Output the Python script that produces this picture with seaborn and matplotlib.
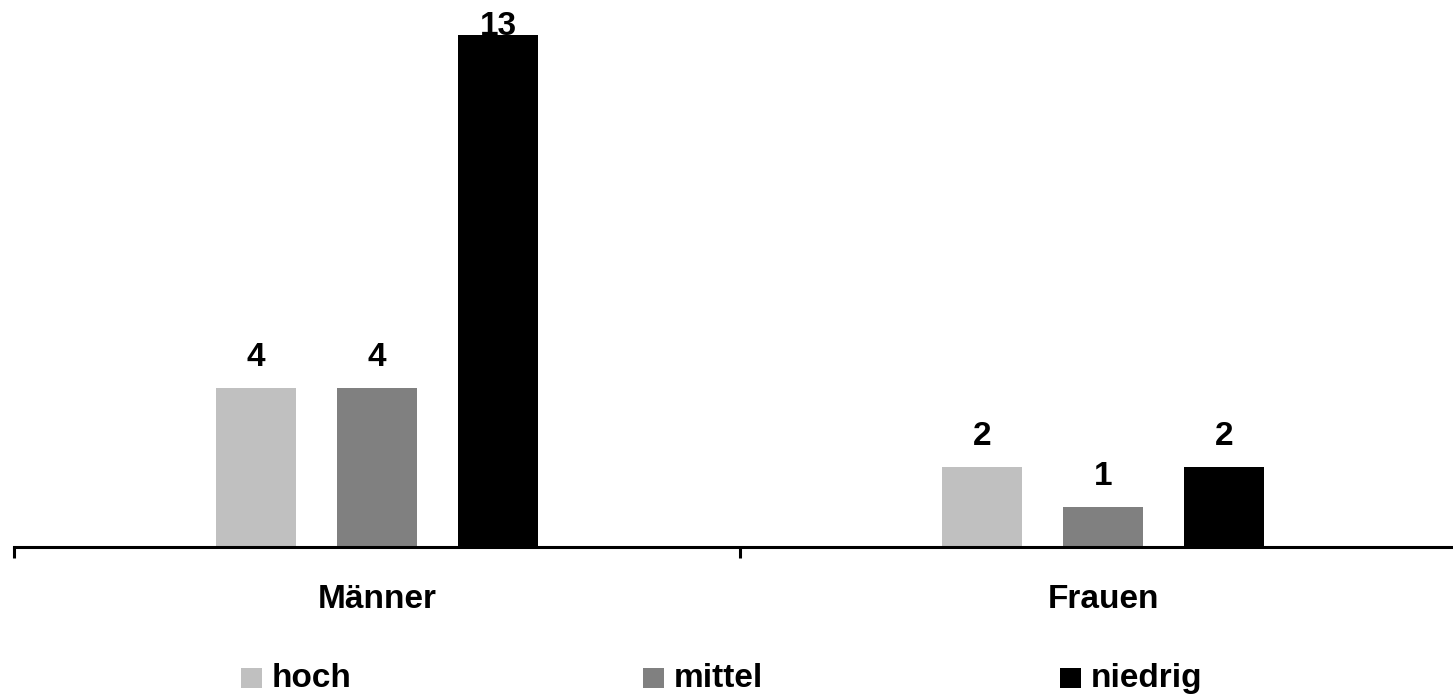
import matplotlib
matplotlib.use("Agg")
import matplotlib.pyplot as plt
import seaborn as sns
import pandas as pd
from matplotlib.patches import Rectangle

# Data
categories = ["Männer", "Frauen"]
levels = ["hoch", "mittel", "niedrig"]
hoch = [4, 2]
mittel = [4, 1]
niedrig = [13, 2]
colors = ["#C0C0C0", "#808080", "#000000"]

rows = []
for lvl, vals in zip(levels, [hoch, mittel, niedrig]):
    for cat, v in zip(categories, vals):
        rows.append({"Geschlecht": cat, "Niveau": lvl, "Anzahl": v})
df = pd.DataFrame(rows)

sns.set_theme(style="white")
plt.rcParams["font.family"] = ["Liberation Sans", "DejaVu Sans"]
plt.rcParams["font.weight"] = "bold"
plt.rcParams["text.color"] = "black"
plt.rcParams["xtick.color"] = "black"
plt.rcParams["xtick.labelcolor"] = "black"

W, H = 1453, 694
fig = plt.figure(figsize=(W / 100, H / 100), dpi=100)
ax_left, ax_bottom, ax_top = 14, 147.5, 35
ax = fig.add_axes([ax_left / W, ax_bottom / H, (W - ax_left) / W, (H - ax_bottom - ax_top) / H])

sns.barplot(data=df, x="Geschlecht", y="Anzahl", hue="Niveau",
            order=categories, hue_order=levels, palette=colors,
            width=0.5, gap=0.34, saturation=1, linewidth=0,
            legend=False, ax=ax)

cat_px = 726
ymax = 12.92
ax.set_xlim(-0.5, -0.5 + (W - ax_left) / cat_px)
ax.set_ylim(0, ymax)

# Value labels above bars; labels that would leave the plot sit on its top edge
for container in ax.containers:
    for bar in container:
        v = bar.get_height()
        xc = bar.get_x() + bar.get_width() / 2
        if v + 1.2 > ymax:
            ax.annotate(f"{v:g}", (xc, ymax), ha="center", va="baseline",
                        fontsize=24, fontweight="bold", color="black",
                        annotation_clip=False, zorder=0.5)
        else:
            ax.annotate(f"{v:g}", (xc, v), xytext=(0, 11), textcoords="offset points",
                        ha="center", va="bottom", fontsize=24,
                        fontweight="bold", color="black")

# Axes styling
for s in ["top", "right", "left"]:
    ax.spines[s].set_visible(False)
ax.spines["bottom"].set_linewidth(2.2)
ax.spines["bottom"].set_color("black")
ax.set_yticks([])
ax.set_xlabel("")
ax.set_ylabel("")

# Tick marks at category boundaries, labels at category centers
ax.set_xticks([-0.5, 0.5])
ax.set_xticklabels([])
ax.tick_params(axis="x", which="major", bottom=True, length=8, width=2.2,
               color="black", direction="out")
ax.set_xticks([0, 1], minor=True)
ax.set_xticklabels(categories, minor=True, fontsize=24, fontweight="bold", color="black")
ax.tick_params(axis="x", which="minor", bottom=True, length=0, pad=27)

# Legend row: colour square followed by the level name
legend_x = [241, 643, 1060]
sq = 21
sq_bottom = H - 688
for x0, c, lbl in zip(legend_x, colors, levels):
    fig.patches.append(Rectangle((x0 / W, sq_bottom / H), sq / W, 20 / H,
                                 transform=fig.transFigure, facecolor=c,
                                 edgecolor="none", figure=fig))
    fig.text((x0 + sq + 10) / W, (H - 687) / H, lbl, ha="left", va="baseline",
             fontsize=24, fontweight="bold", color="black")

fig.savefig("out.png", dpi=100)
